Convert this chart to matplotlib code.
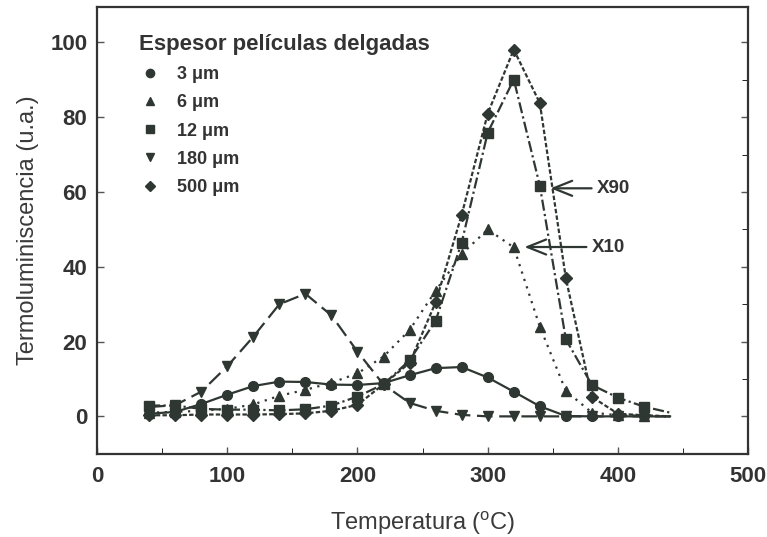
import matplotlib.pyplot as plt
from matplotlib.lines import Line2D

plt.rcParams["font.family"] = ["Liberation Sans", "DejaVu Sans"]

# temperaturas de lectura (marcadores) y final de las curvas
temps = [40, 60, 80, 100, 120, 140, 160, 180, 200, 220,
         240, 260, 280, 300, 320, 340, 360, 380, 400, 420]
t_end = 440

tl_3um = [0.7, 1.2, 3.3, 5.8, 8.1, 9.3, 9.2, 8.5, 8.4, 8.9,
          11.0, 12.9, 13.2, 10.4, 6.6, 2.7, 0.1, 0.0, 0.0, 0.0]
tl_6um = [1.0, 1.2, 1.5, 2.0, 3.2, 5.5, 7.1, 9.0, 11.5, 16.0,
          23.1, 33.6, 43.4, 50.0, 45.2, 24.0, 6.8, 1.0, 0.3, 0.2]
tl_12um = [2.9, 2.9, 2.0, 1.8, 1.8, 1.6, 1.9, 2.9, 5.3, 8.6,
           15.0, 25.6, 46.5, 75.9, 90.1, 61.7, 20.6, 8.4, 5.0, 2.6]
tl_180um = [2.5, 3.0, 6.6, 13.4, 21.3, 30.0, 32.8, 27.0, 17.3, 8.5,
            3.6, 1.5, 0.4, 0.0, 0.0, 0.0, 0.0, 0.0, 0.0, 0.0]
tl_500um = [0.3, 0.3, 0.5, 0.5, 0.5, 0.6, 0.8, 1.5, 3.1, 8.6,
            14.3, 30.5, 53.9, 81.0, 98.1, 83.8, 36.9, 5.2, 0.7, 0.3]
tail = [0.0, 0.0, 1.0, 0.0, 0.0]

labels = ["3 μm", "6 μm", "12 μm", "180 μm", "500 μm"]
markers = ["o", "^", "s", "v", "D"]
styles = ["-", (0, (1, 2.5)), (0, (5, 1.5, 1, 1.5)), (0, (7, 3)), (0, (2, 1))]
msizes = [7, 7.5, 7, 7.5, 6]
ink = "#2f3732"

fig = plt.figure(figsize=(7.67, 5.37), dpi=100)
ax = fig.add_axes([0.1265, 0.155, 0.849, 0.832])

series = [tl_3um, tl_6um, tl_12um, tl_180um, tl_500um]
for vals, end, m, ls, ms in zip(series, tail, markers, styles, msizes):
    ax.plot(temps + [t_end], vals + [end], color=ink, lw=1.6, ls=ls)
    ax.plot(temps, vals, ls="none", marker=m, ms=ms, color=ink)

ax.set_xlim(0, 500)
ax.set_ylim(-10, 109.5)
ax.set_xticks([0, 100, 200, 300, 400, 500])
ax.set_xticks([50, 150, 250, 350, 450], minor=True)
ax.set_yticks([0, 20, 40, 60, 80, 100])
ax.set_yticks([10, 30, 50, 70, 90], minor=True)
ax.tick_params(direction="in", length=5, width=1, color="#555555",
               labelsize=16, labelcolor="#333333", right=True)
ax.tick_params(axis="x", pad=9)
ax.tick_params(axis="y", pad=7)
ax.tick_params(which="minor", direction="in", length=4, right=True, left=False)
for lab in ax.get_xticklabels() + ax.get_yticklabels():
    lab.set_fontweight("bold")
for s in ax.spines.values():
    s.set_linewidth(1.6)
    s.set_color("#333333")

ax.set_xlabel(r"Temperatura ($\mathregular{^{o}}$C)", fontsize=17,
              color="#3a3a3a", labelpad=16)
ax.set_ylabel("Termoluminiscencia (u.a.)", fontsize=17, color="#3a3a3a",
              labelpad=8)

handles = [Line2D([], [], ls="none", marker=m, ms=ms * 0.85, color=ink)
           for m, ms in zip(markers, msizes)]
leg = ax.legend(handles, labels, title="Espesor películas delgadas",
                loc="upper left", bbox_to_anchor=(0.045, 0.968), frameon=False,
                handlelength=1.2, handletextpad=0.9, labelspacing=0.62,
                borderpad=0.2, prop={"weight": "bold", "size": 13},
                title_fontproperties={"weight": "bold", "size": 16})
leg._legend_box.align = "left"
leg.get_title().set_color("#333333")
for t in leg.get_texts():
    t.set_color("#333333")

arrow = dict(arrowstyle="->,head_length=1.0,head_width=0.4", color=ink, lw=1.6)
ax.annotate("X90", xy=(346, 61), xytext=(384, 61), va="center",
            fontsize=13.5, fontweight="bold", color="#333333", arrowprops=arrow)
ax.annotate("X10", xy=(326, 45.3), xytext=(380, 45.3), va="center",
            fontsize=13.5, fontweight="bold", color="#333333", arrowprops=arrow)

fig.savefig("out.png", dpi=100)
